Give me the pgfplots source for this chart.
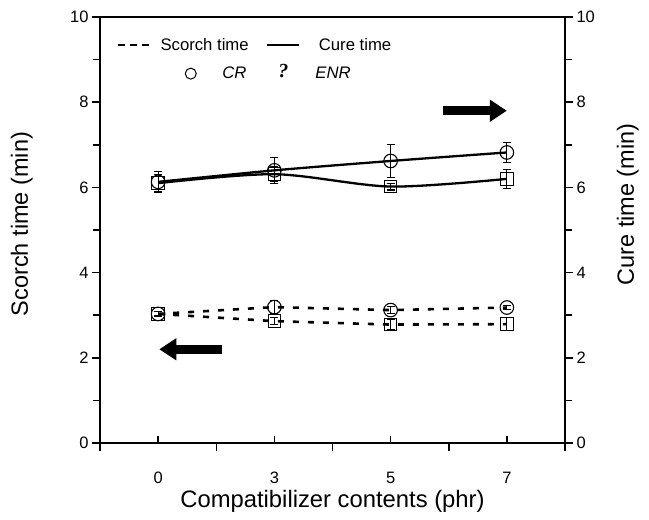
\documentclass[border=0pt]{standalone}
\usepackage{pgfplots}
\pgfplotsset{compat=1.18}
\usepackage{fontspec}
\setmainfont{Liberation Sans}
\newfontfamily\seriffont{Liberation Serif}
\usetikzlibrary{arrows.meta}
\pgfplotsset{
  common/.style={
    at={(100pt,77pt)}, anchor=south west,
    scale only axis, width=465pt, height=426pt,
    xmin=0.5, xmax=4.5, ymin=0, ymax=10,
    axis line style={line width=2.2pt, -},
    tick style={line width=1.5pt, black},
    /pgf/number format/assume math mode=true,
    ticklabel style={font=\fontsize{16.5}{18}\selectfont},
  },
  yside/.style={
    axis x line=none,
    tick align=outside,
    major tick length=8pt, minor tick length=7pt,
    ytick={0,2,4,6,8,10}, minor ytick={1,3,5,7,9},
  },
}
\begin{document}
\begin{tikzpicture}
\useasboundingbox (0,0) rectangle (649pt,520pt);
% main axis: box, x ticks, data
\begin{axis}[common,
  xtick={1,2,3,4}, xticklabels={0,3,5,7},
  xtick pos=bottom, tick align=inside, major tick length=7pt,
  ytick=\empty,
  extra x ticks={0.5,1.5,2.5,3.5,4.5}, extra x tick labels={},
  extra x tick style={tick align=outside, major tick length=8pt},
  xticklabel style={anchor=base, yshift=-40pt},
  xlabel={Compatibilizer contents (phr)},
  xlabel style={font=\fontsize{23.8}{26}\selectfont, at={(axis description cs:0.5,-0.138)}, anchor=center},
  legend columns=2,
  legend style={draw=none, fill=none, at={(rel axis cs:0.036,0.934)}, anchor=west,
     font=\fontsize{16.7}{18}\selectfont, inner sep=0pt,
     /tikz/every even column/.append style={column sep=15pt}},
  legend cell align=left,
  error bars/error bar style={line width=1.2pt, solid},
  error bars/error mark options={rotate=90, mark size=4pt, line width=1.2pt, solid},
]
\addlegendimage{legend image code/.code={\draw[line width=2.6pt, dash pattern=on 7pt off 5pt] (0pt,0pt) -- (31pt,0pt);}}
\addlegendentry{\hspace*{8pt}Scorch time}
\addlegendimage{legend image code/.code={\draw[line width=2.2pt] (0pt,0pt) -- (32pt,0pt);}}
\addlegendentry{\hspace*{17pt}Cure time}

% Cure time CR
\addplot[black, line width=2.3pt, smooth, mark=o, mark size=6.8pt,
  mark options={solid, line width=1.1pt},
  error bars/.cd, y dir=both, y explicit]
  coordinates {(1,6.13) +- (0,0.25) (2,6.40) +- (0,0.31) (3,6.62) +- (0,0.38) (4,6.82) +- (0,0.23)};
% Cure time ENR
\addplot[black, line width=2.3pt, smooth, mark=square, mark size=6.3pt,
  mark options={solid, line width=1.1pt},
  error bars/.cd, y dir=both, y explicit]
  coordinates {(1,6.10) +- (0,0.20) (2,6.31) +- (0,0.18) (3,6.02) +- (0,0.08) (4,6.20) +- (0,0.22)};
% Scorch time CR
\addplot[black, line width=2.6pt, dash pattern=on 6pt off 9pt, mark=o, mark size=6.8pt,
  mark options={solid, line width=1.1pt},
  error bars/.cd, y dir=both, y explicit]
  coordinates {(1,3.03) +- (0,0.06) (2,3.19) +- (0,0.15) (3,3.12) +- (0,0.08) (4,3.18) +- (0,0.05)};
% Scorch time ENR
\addplot[black, line width=2.6pt, dash pattern=on 6pt off 9pt, mark=square, mark size=6.3pt,
  mark options={solid, line width=1.1pt},
  error bars/.cd, y dir=both, y explicit]
  coordinates {(1,3.03) +- (0,0.05) (2,2.86) +- (0,0.08) (3,2.78) +- (0,0.12) (4,2.79) +- (0,0.15)};

\draw[line width=9pt, -{Triangle[length=17pt,width=21pt]}] (axis cs:1.55,2.2) -- (axis cs:1.01,2.2);
\draw[line width=9pt, -{Triangle[length=17pt,width=21pt]}] (axis cs:3.45,7.8) -- (axis cs:4.0,7.8);
\end{axis}
% left y axis
\begin{axis}[common, yside, axis y line*=left,
  ylabel={Scorch time (min)},
  ylabel style={font=\fontsize{23.5}{26}\selectfont, at={(axis description cs:-0.168,0.514)}, anchor=center},
]
\end{axis}
% right y axis
\begin{axis}[common, yside, axis y line*=right,
  ylabel={Cure time (min)},
  ylabel style={font=\fontsize{23.5}{26}\selectfont, at={(axis description cs:1.135,0.56)}, anchor=center},
  legend columns=2,
  legend style={draw=none, fill=none, at={(rel axis cs:0.183,0.868)}, anchor=west,
     font=\fontsize{16.7}{18}\selectfont\itshape, inner sep=0pt,
     /tikz/every even column/.append style={column sep=30pt}},
  legend cell align=left,
]
\addlegendimage{only marks, mark=o, mark size=5.5pt, mark options={line width=1pt}}
\addlegendentry{\hspace*{24pt}CR}
\addlegendimage{legend image code/.code={\node[inner sep=0pt, font=\fontsize{20}{22}\selectfont\seriffont\bfseries\itshape] at (0.3cm,2pt) {?};}}
\addlegendentry{\hspace*{25pt}ENR}
\end{axis}
\end{tikzpicture}
\end{document}
